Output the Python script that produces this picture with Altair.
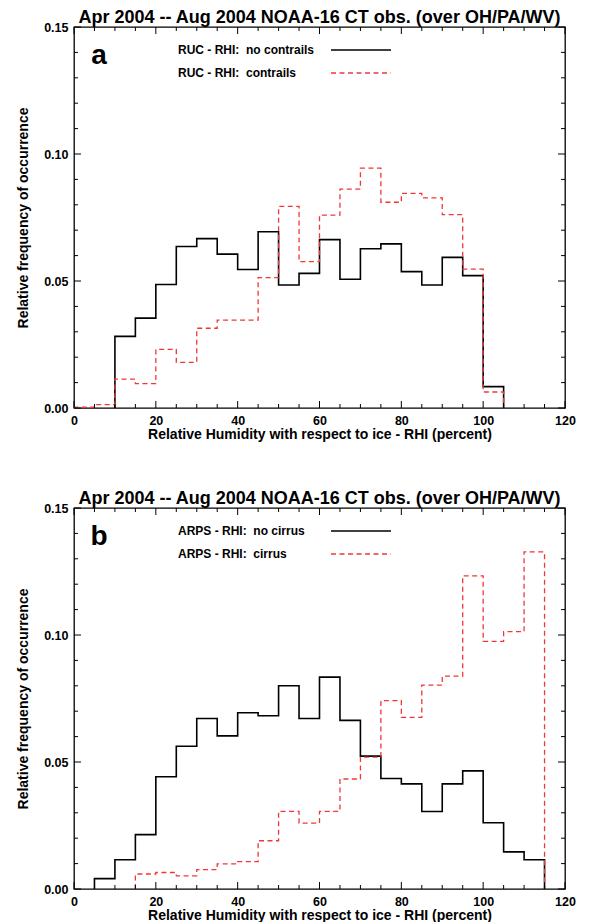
import altair as alt
import pandas as pd

TITLE = "Apr 2004 -- Aug 2004 NOAA-16 CT obs. (over OH/PA/WV)"
X_TITLE = "Relative Humidity with respect to ice - RHI (percent)"
Y_TITLE = "Relative frequency of occurrence"

X_LABELS = [0, 20, 40, 60, 80, 100, 120]
Y_LABELS = [0.0, 0.05, 0.10, 0.15]
X_TICKS = list(range(0, 121, 5))
Y_TICKS = [round(0.01 * i, 2) for i in range(16)]
BIN = 5

# Panel a
A_NOCON_START = 10
A_NOCON = [0.0282, 0.0354, 0.0486, 0.0636, 0.0667, 0.0606, 0.0545, 0.0694, 0.0484, 0.0530,
           0.0663, 0.0507, 0.0627, 0.0646, 0.0537, 0.0484, 0.0593, 0.0521, 0.0084]
A_CON_START = 0
A_CON = [0.0003, 0.0013, 0.0114, 0.0096, 0.0231, 0.0180, 0.0314, 0.0346, 0.0346, 0.0513,
         0.0794, 0.0576, 0.0759, 0.0862, 0.0944, 0.0810, 0.0845, 0.0827, 0.0761, 0.0547, 0.0063]

# Panel b
B_NOCIR_START = 5
B_NOCIR = [0.0041, 0.0115, 0.0214, 0.0442, 0.0562, 0.0671, 0.0603, 0.0694, 0.0682, 0.0800,
           0.0671, 0.0834, 0.0664, 0.0523, 0.0435, 0.0414, 0.0305, 0.0414, 0.0465, 0.0261,
           0.0146, 0.0115]
B_CIR_START = 15
B_CIR = [0.0059, 0.0065, 0.0052, 0.0076, 0.0099, 0.0108, 0.0190, 0.0306, 0.0259, 0.0306,
         0.0433, 0.0519, 0.0742, 0.0676, 0.0803, 0.0838, 0.1233, 0.0975, 0.1013, 0.1327]

W = 491
H = 381
FONT = "Liberation Sans"
RED = "#ee3838"


def step_df(start, vals):
    xs = [start] + [start + i * BIN for i in range(len(vals))] + [start + len(vals) * BIN]
    ys = [0.0] + list(vals) + [0.0]
    return pd.DataFrame({"x": xs, "y": ys, "i": list(range(len(xs)))})


XS = alt.Scale(domain=[0, 120], nice=False, zero=False)
YS = alt.Scale(domain=[0, 0.15], nice=False)
AXIS_STYLE = dict(grid=False, domain=False, ticks=False, labelOverlap=False,
                  labelFont=FONT, labelFontWeight="bold", labelFontSize=12.5,
                  labelColor="black", titleFont=FONT, titleFontWeight="bold",
                  titleFontSize=14, titleColor="black")
XAXIS = alt.Axis(title=X_TITLE, values=X_LABELS, labelFlush=False, labelPadding=6,
                 titlePadding=1, format="d", **AXIS_STYLE)
YAXIS = alt.Axis(title=Y_TITLE, values=Y_LABELS, format=".2f", labelPadding=6,
                 titlePadding=13, **AXIS_STYLE)


def X(field):
    return alt.X(field, scale=XS, axis=XAXIS, title=X_TITLE)


def Y(field):
    return alt.Y(field, scale=YS, axis=YAXIS, title=Y_TITLE)


def tick_layers():
    layers = []
    xdf = pd.DataFrame({"p": X_TICKS, "major": [p % 20 == 0 for p in X_TICKS]})
    ydf = pd.DataFrame({"p": Y_TICKS, "major": [i % 5 == 0 for i in range(len(Y_TICKS))]})
    for major, L in [(True, 7), (False, 4)]:
        xd = xdf[xdf.major == major]
        yd = ydf[ydf.major == major]
        base_x = alt.Chart(xd).mark_rule(color="black", strokeWidth=1)
        base_y = alt.Chart(yd).mark_rule(color="black", strokeWidth=1)
        layers.append(base_x.encode(x=X("p:Q"), y=alt.value(H), y2=alt.value(H - L)))
        layers.append(base_x.encode(x=X("p:Q"), y=alt.value(0), y2=alt.value(L)))
        layers.append(base_y.encode(y=Y("p:Q"), x=alt.value(0), x2=alt.value(L)))
        layers.append(base_y.encode(y=Y("p:Q"), x=alt.value(W), x2=alt.value(W - L)))
    return layers


def panel(letter, b_start, b_vals, r_start, r_vals, lab_b, lab_r):
    black = alt.Chart(step_df(b_start, b_vals)).mark_line(
        interpolate="step-after", color="black", strokeWidth=1.6
    ).encode(x=X("x:Q"), y=Y("y:Q"), order="i:Q")
    red = alt.Chart(step_df(r_start, r_vals)).mark_line(
        interpolate="step-after", color=RED, strokeWidth=1.3, strokeDash=[5, 3.5]
    ).encode(x=X("x:Q"), y=Y("y:Q"), order="i:Q")

    one = pd.DataFrame({"k": [0]})
    letter_t = alt.Chart(one).mark_text(
        text=letter, font=FONT, fontSize=28, fontWeight="bold", align="center",
        baseline="alphabetic", color="black"
    ).encode(x=alt.value(25), y=alt.value(37))
    t1 = alt.Chart(one).mark_text(
        text=lab_b, font=FONT, fontSize=12, fontWeight="bold", align="left",
        baseline="middle", color="black"
    ).encode(x=alt.value(104), y=alt.value(23))
    t2 = alt.Chart(one).mark_text(
        text=lab_r, font=FONT, fontSize=12, fontWeight="bold", align="left",
        baseline="middle", color="black"
    ).encode(x=alt.value(104), y=alt.value(46))
    l1 = alt.Chart(one).mark_rule(color="black", strokeWidth=1.4).encode(
        x=alt.value(257), x2=alt.value(317), y=alt.value(23))
    l2 = alt.Chart(one).mark_rule(color=RED, strokeWidth=1.3, strokeDash=[5, 3.5]).encode(
        x=alt.value(257), x2=alt.value(317), y=alt.value(46))

    return alt.layer(black, red, *tick_layers(), letter_t, t1, t2, l1, l2).properties(
        width=W, height=H,
        title=alt.TitleParams(TITLE, font=FONT, fontSize=18, fontWeight="bold",
                              anchor="middle", frame="group", offset=-6, color="black"),
    )


pa = panel("a", A_NOCON_START, A_NOCON, A_CON_START, A_CON,
           "RUC - RHI:\u00a0 no contrails", "RUC - RHI:\u00a0 contrails")
pb = panel("b", B_NOCIR_START, B_NOCIR, B_CIR_START, B_CIR,
           "ARPS - RHI:\u00a0 no cirrus", "ARPS - RHI:\u00a0 cirrus")

chart = alt.vconcat(pa, pb, spacing=46).properties(
    padding={"left": 8, "top": 0, "right": 5, "bottom": 0}
).configure_view(stroke="black", strokeWidth=1.3).configure_axis(
    grid=False, domain=False, ticks=False
)

chart.save("out.html", embed_options={"renderer": "svg", "actions": False})
